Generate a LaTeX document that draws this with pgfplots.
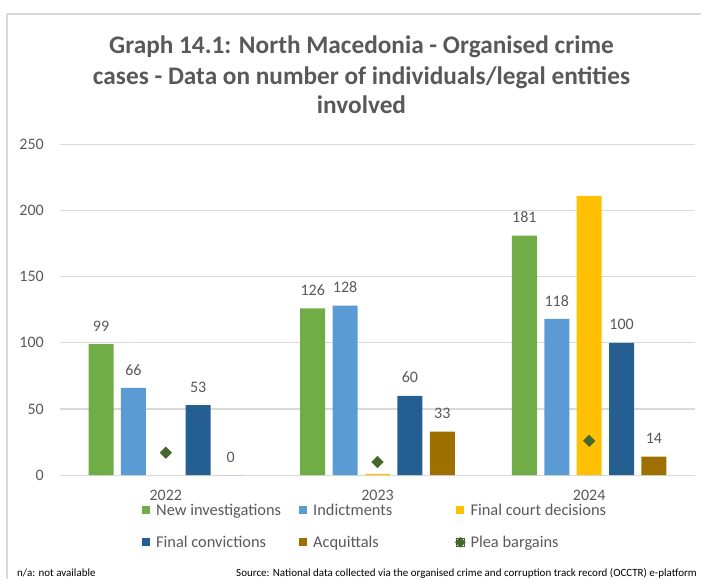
\documentclass[border=0pt]{standalone}
\usepackage{fontspec}
\setmainfont{Carlito}
\usepackage{pgfplots}
\pgfplotsset{compat=1.18}
\definecolor{cNI}{HTML}{70AD47}
\definecolor{cInd}{HTML}{5B9BD5}
\definecolor{cFCD}{HTML}{FFC000}
\definecolor{cFC}{HTML}{255E91}
\definecolor{cAcq}{HTML}{9E7000}
\definecolor{cPlea}{HTML}{43682B}
\definecolor{txt}{HTML}{595959}
\definecolor{gridc}{HTML}{D9D9D9}
\pgfplotsset{
  barimg/.style={legend image code/.code={\fill[##1] (0pt,-4pt) rectangle (8pt,4pt);}},
  pleaimg/.style={legend image code/.code={\begin{pgfinterruptboundingbox}\fill[cPlea] (4pt,-5pt) -- (9pt,0pt) -- (4pt,5pt) -- (-1pt,0pt) -- cycle;\end{pgfinterruptboundingbox}\path (0pt,-4pt) rectangle (8pt,4pt);}},
}
\begin{document}
\begin{tikzpicture}
\useasboundingbox (0pt,0pt) rectangle (701pt,-579pt);
\draw[gridc, line width=1.3pt] (7pt,-579pt) -- (7pt,-14pt) -- (701pt,-14pt);
\node[anchor=base, inner sep=0pt, font=\bfseries\fontsize{25.3}{30}\selectfont, text=txt] at (361.5pt,-53pt) {Graph 14.1: North Macedonia - Organised crime};
\node[anchor=base, inner sep=0pt, font=\bfseries\fontsize{25.3}{30}\selectfont, text=txt] at (361.5pt,-84pt) {cases - Data on number of individuals/legal entities};
\node[anchor=base, inner sep=0pt, font=\bfseries\fontsize{25.3}{30}\selectfont, text=txt] at (361.5pt,-113pt) {involved};
\node[anchor=base west, inner sep=0pt, font=\fontsize{11}{13}\selectfont] at (17pt,-576pt) {n/a: not available};
\node[anchor=base west, inner sep=0pt, font=\fontsize{11}{13}\selectfont] at (236pt,-576pt) {Source: National data collected via the organised crime and corruption track record (OCCTR) e-platform};
\begin{axis}[
  at={(60pt,-475.2pt)}, anchor=south west,
  scale only axis, width=635pt, height=331pt,
  xmin=-0.5, xmax=2.5, ymin=0, ymax=250,
  ytick={0,50,...,250}, xtick={0,1,2}, xticklabels={2022,2023,2024},
  ymajorgrids, grid style={gridc, line width=1.3pt},
  axis line style={draw=none}, major tick length=0pt,
  tick label style={font=\fontsize{16}{19}\selectfont, text=txt},
  /pgf/number format/assume math mode=true,
  yticklabel style={anchor=east, inner sep=0pt, xshift=-16pt},
  xticklabel style={anchor=north, inner sep=0pt, yshift=-15pt},
  clip=false,
  legend columns=3,
  legend cell align=left,
  legend style={at={(0.1291,-0.0896)}, anchor=north west, draw=none, fill=none, inner sep=0pt, row sep=21.7pt,
    nodes={inner sep=0pt, text height=10.3pt, text depth=0pt, font=\fontsize{16.4}{19}\selectfont, text=txt},
    /tikz/every odd column/.style={column sep=6pt}, /tikz/every even column/.style={column sep=0pt}},
  barlabel/.style={nodes near coords, every node near coord/.append style={font=\fontsize{16}{19}\selectfont, text=txt, anchor=south, inner sep=0pt, yshift=12.5pt}},
]
% bars are placed at group centre + offset (offsets -0.306, -0.153, 0, 0.153, 0.306)
\addplot[ybar, bar width=0.118, bar shift=0, fill=cNI, draw=none, barlabel, barimg] coordinates {(-0.306,99) (0.694,126) (1.694,181)};
\addlegendentry{\makebox[143pt][l]{New investigations}}
\addplot[ybar, bar width=0.118, bar shift=0, fill=cInd, draw=none, barlabel, barimg] coordinates {(-0.153,66) (0.847,128) (1.847,118)};
\addlegendentry{\makebox[143pt][l]{Indictments}}
\addplot[ybar, bar width=0.118, bar shift=0, fill=cFCD, draw=none, barimg] coordinates {(1,1) (2,211)};
\addlegendentry{\makebox[143pt][l]{Final court decisions}}
\addplot[ybar, bar width=0.118, bar shift=0, fill=cFC, draw=none, barlabel, barimg] coordinates {(0.153,53) (1.153,60) (2.153,100)};
\addlegendentry{\makebox[143pt][l]{Final convictions}}
\addplot[ybar, bar width=0.118, bar shift=0, fill=cAcq, draw=none, barlabel, barimg] coordinates {(0.306,0) (1.306,33) (2.306,14)};
\addlegendentry{\makebox[143pt][l]{Acquittals}}
\addplot[only marks, mark=square*, mark size=4.1pt, mark options={rotate=45, fill=cPlea, draw=cPlea}, color=cPlea, pleaimg]
  coordinates {(0,17) (1,10) (2,26)};
\addlegendentry{\makebox[143pt][l]{Plea bargains}}
\end{axis}
\end{tikzpicture}
\end{document}
